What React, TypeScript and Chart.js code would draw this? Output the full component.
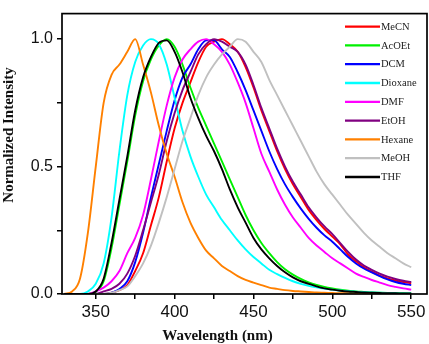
import React, { useEffect, useRef } from 'react';
import { Chart, registerables } from 'chart.js';

Chart.register(...registerables);

const wavelengths = [330, 335, 340, 345, 350, 355, 360, 365, 370, 375, 380, 385, 390, 395, 400, 405, 410, 415, 420, 425, 430, 435, 440, 445, 450, 455, 460, 465, 470, 475, 480, 485, 490, 495, 500, 505, 510, 515, 520, 525, 530, 535, 540, 545, 550];

const meCN = [0, 0, 0, 0, 0, 0, 0.005, 0.015, 0.035, 0.09, 0.16, 0.27, 0.38, 0.52, 0.65, 0.75, 0.83, 0.91, 0.97, 0.99, 1.0, 0.98, 0.95, 0.89, 0.81, 0.72, 0.64, 0.56, 0.49, 0.43, 0.38, 0.33, 0.29, 0.255, 0.225, 0.195, 0.155, 0.128, 0.105, 0.088, 0.072, 0.061, 0.053, 0.047, 0.042];
const acOEt = [0, 0, 0, 0, 0.008, 0.05, 0.18, 0.35, 0.52, 0.7, 0.835, 0.92, 0.975, 1.0, 0.97, 0.9, 0.81, 0.73, 0.66, 0.59, 0.52, 0.45, 0.38, 0.31, 0.25, 0.2, 0.16, 0.125, 0.097, 0.076, 0.059, 0.046, 0.036, 0.028, 0.022, 0.017, 0.013, 0.01, 0.008, 0.006, 0.005, 0.004, 0.003, 0.003, 0.002];
const dcm = [0, 0, 0, 0, 0, 0, 0.005, 0.02, 0.05, 0.125, 0.24, 0.38, 0.51, 0.64, 0.76, 0.85, 0.9, 0.96, 0.995, 0.995, 0.96, 0.93, 0.87, 0.8, 0.72, 0.64, 0.56, 0.49, 0.43, 0.38, 0.335, 0.295, 0.26, 0.23, 0.205, 0.175, 0.145, 0.12, 0.1, 0.085, 0.07, 0.057, 0.047, 0.04, 0.035];
const dioxane = [0, 0, 0, 0.01, 0.04, 0.12, 0.3, 0.56, 0.78, 0.91, 0.975, 1.0, 0.98, 0.9, 0.77, 0.64, 0.54, 0.46, 0.39, 0.34, 0.29, 0.25, 0.21, 0.175, 0.145, 0.12, 0.095, 0.078, 0.063, 0.05, 0.04, 0.032, 0.026, 0.021, 0.017, 0.014, 0.011, 0.009, 0.007, 0.006, 0.005, 0.004, 0.003, 0.002, 0.002];
const dmf = [0, 0, 0, 0, 0.01, 0.025, 0.05, 0.09, 0.16, 0.22, 0.31, 0.45, 0.6, 0.74, 0.85, 0.92, 0.96, 0.99, 1.0, 0.98, 0.95, 0.9, 0.83, 0.75, 0.65, 0.55, 0.48, 0.41, 0.35, 0.3, 0.26, 0.22, 0.19, 0.165, 0.14, 0.12, 0.1, 0.08, 0.067, 0.055, 0.045, 0.035, 0.028, 0.022, 0.017];
const etOH = [0, 0, 0, 0, 0, 0.01, 0.02, 0.04, 0.08, 0.15, 0.25, 0.36, 0.47, 0.6, 0.71, 0.8, 0.87, 0.94, 0.98, 1.0, 0.99, 0.97, 0.95, 0.9, 0.82, 0.73, 0.65, 0.57, 0.5, 0.44, 0.39, 0.34, 0.3, 0.265, 0.235, 0.2, 0.165, 0.135, 0.112, 0.095, 0.08, 0.068, 0.059, 0.052, 0.047];
const hexane = [0, 0.01, 0.06, 0.24, 0.5, 0.75, 0.86, 0.9, 0.95, 1.0, 0.9, 0.79, 0.66, 0.55, 0.46, 0.36, 0.28, 0.22, 0.17, 0.14, 0.11, 0.09, 0.07, 0.055, 0.045, 0.035, 0.025, 0.02, 0.015, 0.012, 0.01, 0.008, 0.006, 0.005, 0.004, 0.003, 0.003, 0.002, 0.002, 0.001, 0.001, 0.001, 0, 0, 0];
const meOH = [0, 0, 0, 0, 0, 0, 0.005, 0.015, 0.03, 0.07, 0.12, 0.19, 0.28, 0.38, 0.49, 0.6, 0.69, 0.78, 0.85, 0.9, 0.94, 0.97, 1.0, 0.99, 0.95, 0.91, 0.84, 0.78, 0.72, 0.66, 0.6, 0.54, 0.48, 0.43, 0.39, 0.35, 0.31, 0.275, 0.24, 0.21, 0.185, 0.16, 0.14, 0.12, 0.105];
const thf = [0, 0, 0, 0, 0.01, 0.06, 0.2, 0.37, 0.54, 0.72, 0.85, 0.93, 0.985, 0.995, 0.95, 0.87, 0.77, 0.69, 0.62, 0.56, 0.49, 0.41, 0.34, 0.28, 0.22, 0.175, 0.14, 0.11, 0.085, 0.065, 0.05, 0.04, 0.03, 0.022, 0.017, 0.013, 0.01, 0.008, 0.006, 0.005, 0.004, 0.003, 0.003, 0.002, 0.002];

const seriesNames = ['MeCN', 'AcOEt', 'DCM', 'Dioxane', 'DMF', 'EtOH', 'Hexane', 'MeOH', 'THF'];
const seriesValues = [meCN, acOEt, dcm, dioxane, dmf, etOH, hexane, meOH, thf];
const seriesColors = ['#ff0000', '#00f000', '#0000ff', '#00ffff', '#ff00ff', '#800080', '#ff8000', '#c0c0c0', '#000000'];

const xTickValues = [350, 375, 400, 425, 450, 475, 500, 525, 550];
const xTickLabels = ['350', '', '400', '', '450', '', '500', '', '550'];
const yTickValues = [0, 0.25, 0.5, 0.75, 1.0];
const yTickLabels = ['0.0', '', '0.5', '', '1.0'];

const xTitle = 'Wavelength (nm)';
const yTitle = 'Normalized Intensity';

const decorPlugin = {
  id: 'decor',
  afterDraw(chart: any) {
    const { ctx, chartArea: a } = chart;
    ctx.save();
    // frame
    ctx.strokeStyle = '#000';
    ctx.lineWidth = 1.7;
    ctx.strokeRect(a.left, a.top, a.right - a.left, a.bottom - a.top);
    // legend
    ctx.font = '10.5px "Liberation Serif", "Times New Roman", serif';
    ctx.textBaseline = 'middle';
    ctx.textAlign = 'left';
    chart.data.datasets.forEach((ds: any, i: number) => {
      const y = a.top + 13 + i * 18.8;
      ctx.strokeStyle = ds.borderColor;
      ctx.lineWidth = 2.3;
      ctx.beginPath();
      ctx.moveTo(a.right - 82, y);
      ctx.lineTo(a.right - 47, y);
      ctx.stroke();
      ctx.fillStyle = '#222';
      ctx.fillText(ds.label, a.right - 46, y + 0.5);
    });
    // axis titles
    ctx.fillStyle = '#111';
    ctx.font = 'bold 15px "Liberation Serif", "Times New Roman", serif';
    ctx.textAlign = 'center';
    ctx.textBaseline = 'middle';
    ctx.fillText(xTitle, 217.5, 336);
    ctx.translate(9, 135);
    ctx.rotate(-Math.PI / 2);
    ctx.fillText(yTitle, 0, 0);
    ctx.restore();
  },
};

export default function App() {
  const canvasRef = useRef<HTMLCanvasElement | null>(null);

  useEffect(() => {
    const canvas = canvasRef.current;
    if (!canvas) return;
    const datasets = seriesNames.map((name, i) => ({
      label: name,
      data: wavelengths.map((w, j) => ({ x: w, y: seriesValues[i][j] })),
      borderColor: seriesColors[i],
      backgroundColor: seriesColors[i],
      borderWidth: 1.9,
      pointRadius: 0,
      cubicInterpolationMode: 'monotone' as const,
      fill: false,
      order: seriesNames.length - 1 - i,
    }));
    const chart = new Chart(canvas, {
      type: 'line',
      data: { datasets },
      plugins: [decorPlugin],
      options: {
        animation: false,
        responsive: false,
        maintainAspectRatio: false,
        layout: { padding: { left: 0, right: 2, top: 2, bottom: 0 } },
        plugins: {
          legend: { display: false },
          tooltip: { enabled: false },
          title: { display: false },
        },
        scales: {
          x: {
            type: 'linear',
            min: 328.6,
            max: 560,
            afterBuildTicks: (scale: any) => {
              scale.ticks = xTickValues.map((v) => ({ value: v }));
            },
            afterFit: (scale: any) => {
              scale.height = 50;
            },
            ticks: {
              autoSkip: false,
              maxRotation: 0,
              padding: 3,
              color: '#111',
              font: { family: '"Liberation Sans", Arial, sans-serif', size: 17 },
              callback: (value: any) => {
                const k = xTickValues.indexOf(Number(value));
                return k >= 0 ? xTickLabels[k] : '';
              },
            },
            grid: { display: true, drawOnChartArea: false, drawTicks: true, tickLength: 5, color: '#000', lineWidth: 1.5 },
            border: { display: false },
          },
          y: {
            type: 'linear',
            min: 0,
            max: 1.1,
            afterBuildTicks: (scale: any) => {
              scale.ticks = yTickValues.map((v) => ({ value: v }));
            },
            afterFit: (scale: any) => {
              scale.width = 62;
            },
            ticks: {
              autoSkip: false,
              padding: 4,
              color: '#111',
              font: { family: '"Liberation Sans", Arial, sans-serif', size: 16 },
              callback: (value: any) => {
                const k = yTickValues.indexOf(Number(value));
                return k >= 0 ? yTickLabels[k] : '';
              },
            },
            grid: { display: true, drawOnChartArea: false, drawTicks: true, tickLength: 5, color: '#000', lineWidth: 1.5 },
            border: { display: false },
          },
        },
      },
    });
    return () => chart.destroy();
  }, []);

  return (
    <div style={{ position: 'absolute', left: 0, top: 0, width: 429, height: 344, background: '#fff' }}>
      <canvas ref={canvasRef} width={429} height={344} style={{ width: 429, height: 344, display: 'block' }} />
    </div>
  );
}
